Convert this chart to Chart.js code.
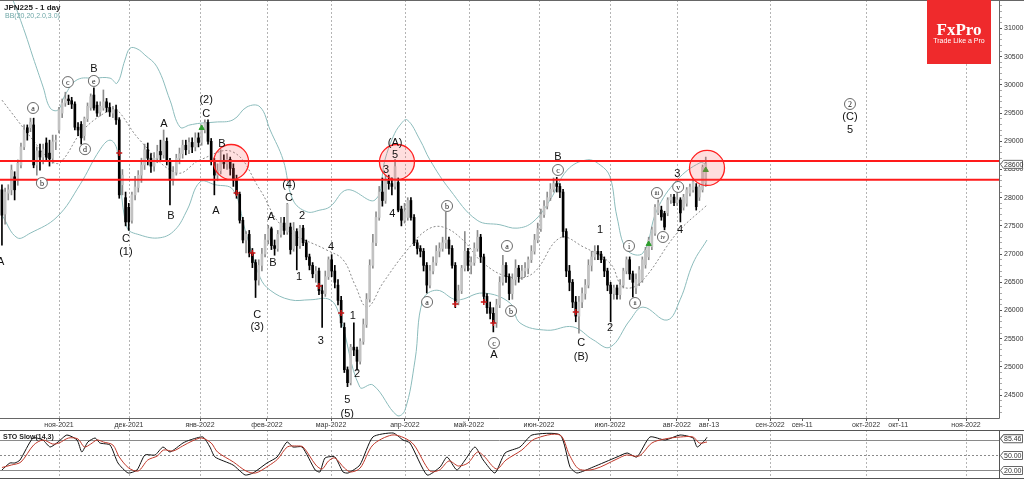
<!DOCTYPE html>
<html><head><meta charset="utf-8">
<script src="https://cdn.jsdelivr.net/npm/chart.js@4.4.0/dist/chart.umd.min.js"></script>
<style>
html,body{margin:0;padding:0;background:#fff;overflow:hidden;}
#wrap{position:relative;width:1024px;height:479px;background:#fff;}
#main{position:absolute;left:0;top:0;width:1024px;height:431px;}
#sto{position:absolute;left:0;top:430px;width:1024px;height:49px;}
</style></head><body>
<div id="wrap">
<canvas id="main" width="1024" height="431"></canvas>
<canvas id="sto" width="1024" height="49"></canvas>
</div>
<script>
// ---------- DATA (daily bars, index 0 = first visible bar) ----------
const opens = [28140,27710,28080,28140,28370,28310,28580,28900,29240,29240,
 29290,28580,28830,28720,28970,28790,28700,28990,29200,29500,
 29680,29750,29720,29660,29250,29300,29100,29400,29600,29820,
 29640,29520,29590,29700,29600,29500,29560,29380,28230,28000,
 27830,27600,28050,28180,28400,28580,28850,28700,28560,28700,
 28820,28760,29000,28650,28310,28450,28700,28780,28930,28850,
 28980,28900,29060,28980,29200,29330,29000,28650,28400,28480,
 28650,28600,28680,28520,28310,28060,27600,27250,27350,27020,
 26850,26540,26800,27000,27250,27450,27150,27100,27350,27550,
 27390,27480,27100,27400,27150,27460,27200,26950,26800,26650,
 26700,26350,26300,26600,26900,26700,26450,26180,25700,24950,
 24720,25350,25300,25100,25450,25750,26200,26800,27200,27650,
 28100,27950,28300,28250,28200,28270,27800,27600,27650,27950,
 27650,27200,27100,27050,26800,26450,26700,26850,27050,27100,
 27200,27250,27100,26800,26150,26350,26750,27050,26800,26850,
 27100,27300,26950,26250,26050,25950,25780,26100,26500,26800,
 26600,26300,26550,26750,26600,26700,26750,26900,27050,27250,
 27450,27700,27850,28000,28150,28250,28200,28100,27400,26700,
 26500,26150,25900,26150,26300,26450,26800,26950,27050,27000,
 26900,26700,26450,26300,26400,26280,26450,26700,26900,26650,
 26400,26490,26540,26810,26950,27130,27370,27730,27780,27720,
 27730,27960,28010,27910,27960,27830,27900,28080,28140,28190,
 28010,28140,28260];
const highs = [28230,28170,28230,28580,28460,28670,28970,29290,29290,29410,
 29410,28900,28950,28950,29060,29020,29110,29110,29600,29750,
 29870,29820,29780,29700,29330,29350,29430,29680,29840,29950,
 29700,29700,29910,29760,29680,29620,29640,29420,28500,28100,
 27900,28100,28380,28480,28700,28950,28970,28780,28800,28930,
 29020,29200,29060,28700,28550,28770,28880,29020,29020,29060,
 29060,29150,29150,29290,29380,29380,29050,28700,28600,28850,
 28760,28780,28720,28600,28400,28100,27650,27400,27420,27100,
 26900,26900,27100,27350,27510,27480,27250,27420,27650,27650,
 27900,27550,27560,27450,27510,27510,27250,27000,26850,26780,
 26750,26450,26700,26950,26990,26800,26550,26250,25780,25000,
 25400,25780,25350,25500,25850,26300,26900,27350,27750,28200,
 28350,28400,28400,28350,28680,28350,27850,27900,28000,28000,
 27700,27250,27150,27100,26850,26800,26950,27150,27200,27300,
 27740,27300,27150,26850,26450,26800,27400,27100,26950,27200,
 27420,27350,27000,26300,26150,26050,26200,26600,26980,26850,
 26650,26650,26900,26800,26800,26850,26950,27150,27350,27550,
 27800,27950,28100,28250,28350,28360,28250,28150,27450,26800,
 26550,26250,26250,26400,26550,26900,27050,27150,27150,27050,
 26950,26750,26500,26450,26450,26550,26750,26950,26950,26700,
 26650,26780,26950,27120,27300,27480,27880,27960,27850,27760,
 28000,28060,28060,28080,28000,28060,28180,28240,28330,28250,
 28230,28580,28720];
const lows = [27160,27530,27960,28050,27960,28220,28530,28850,29020,29170,
 28530,28400,28490,28600,28650,28560,28610,28850,29150,29420,
 29620,29650,29580,29200,29100,28950,29020,29350,29550,29550,
 29440,29450,29550,29520,29440,29420,29300,27990,28050,27500,
 27420,27550,27960,28100,28270,28500,28580,28450,28470,28620,
 28650,28700,28580,27870,28220,28400,28600,28700,28760,28780,
 28800,28830,28900,28930,29150,28950,28580,28050,28300,28420,
 28520,28500,28400,28200,27990,27550,27200,27020,26950,26760,
 26230,26450,26700,26950,27180,27080,26980,27050,27300,27350,
 27350,27000,27050,26720,27100,27150,26900,26720,26580,26500,
 26280,25700,26250,26550,26600,26400,26100,25700,24900,24650,
 24680,25200,24940,25050,25400,25700,26150,26750,27150,27600,
 27850,27900,28150,28050,28150,27750,27500,27550,27600,27600,
 27150,27000,26950,26700,26310,26400,26650,26800,26950,27050,
 27100,27000,26750,26050,26100,26300,26700,26700,26650,26800,
 27050,26850,26150,25950,25850,25620,25700,26050,26450,26500,
 26190,26200,26450,26500,26550,26600,26650,26850,27000,27200,
 27400,27650,27800,27950,28100,28100,28000,27300,26600,26350,
 26050,25800,25600,26050,26200,26400,26700,26900,26900,26850,
 26600,26350,25800,26200,26200,26200,26400,26650,26550,26240,
 26300,26440,26500,26750,26900,27080,27330,27700,27600,27430,
 27680,27900,27860,27860,27570,27780,27850,28030,28100,27780,
 27950,28100,28200];
const closes = [27690,28100,28140,28490,28140,28610,28900,29200,29150,29340,
 28580,28830,28720,28860,28720,28690,28990,29020,29560,29680,
 29750,29720,29660,29250,29200,29060,29400,29620,29790,29590,
 29500,29620,29700,29600,29520,29560,29380,28050,28400,27570,
 27570,28050,28190,28400,28580,28850,28700,28560,28700,28820,
 28760,29010,28650,28310,28450,28700,28780,28930,28850,28980,
 28900,29060,28980,29200,29330,29000,28650,28400,28480,28650,
 28600,28680,28520,28310,28060,27600,27250,27350,27020,26850,
 26540,26800,27000,27250,27450,27150,27100,27350,27550,27420,
 27880,27080,27420,27150,27460,27200,26950,26800,26650,26700,
 26350,26300,26600,26900,26700,26500,26180,25780,24950,24720,
 25350,25300,25100,25450,25750,26200,26800,27200,27650,28100,
 27950,28300,28250,28200,28550,27780,27600,27750,27950,27650,
 27200,27100,27050,26800,26450,26700,26850,27050,27100,27200,
 27250,27100,26800,26150,26350,26750,27050,26800,26850,27100,
 27300,26950,26250,26050,25950,25780,26100,26500,26800,26600,
 26300,26550,26750,26600,26700,26750,26900,27050,27250,27450,
 27700,27850,28000,28150,28250,28200,28100,27400,26700,26500,
 26150,25900,26150,26300,26450,26800,26950,27050,27000,26900,
 26700,26450,26300,26400,26280,26450,26700,26900,26650,26500,
 26550,26720,26900,27070,27250,27430,27830,27910,27660,27480,
 27960,28010,27910,27960,27730,28010,28140,28190,28280,27840,
 28190,28540,28600];

const bbUpIdx = [0,3.5,7.3,9.8,13,15.2,17.7,19.9,23.7,29.4,34.1,36.3,38.8,40.4,42.6,45.1,48.9,53,56.2,59.3,62.5,67.2,72.9,77.3,81.4,84.6,88.7,91.8,96.2,100.3,103.5,108.9,117.7,120.8,123.4,125.6,127.8,131.9,135,141.3,149.9,157.1,162.5,167.5,172.9,178.3,184.6,188.7,191.8,194,197.2,202.2,206.6,212.9,220.2,222.4];
const bbUpVal = [31950,31500,30920,30490,29960,29590,29555,29820,30090,30120,30120,30030,30440,30650,30640,30530,30320,29730,29250,29290,29320,29340,29380,29610,29610,29200,28670,27960,27750,27780,27840,28140,27960,28670,29080,29290,29380,29020,28670,28140,27600,27520,27460,27570,27960,28490,28670,28580,28370,27660,27070,27020,27780,28310,28620,28580];
const bbMidIdx = [0,9.8,15.2,18.3,25.6,34.1,36.3,43.5,55.2,62.5,72.9,81.4,88.7,102.5,107.6,111.4,115.2,120.2,127.8,134.1,139.1,145.4,151.8,160.3,167.5,176.1,183.3,191.8,195.9,201.3,212.9,222.4];
const bbMidVal = [29730,29020,28670,28620,29200,29560,29560,29020,28440,28670,28810,28140,27480,27070,26900,26450,26060,26490,27070,27430,27480,27250,26840,26590,26660,27290,27130,26840,26420,26490,27370,27870];
const bbLowIdx = [0,4.8,8.9,17.4,24.6,30.9,34.1,36.3,39.4,43.5,49.9,54.6,58.4,62.5,67.2,72.9,76.7,81.4,84.6,90.9,97.2,103.5,106.6,112.9,117,124.6,127.1,130.3,132.8,137.2,143.5,151.8,160.3,163.4,172,180.1,186.5,191.8,198.1,202.2,209.8,213.9,218,222.4];
const bbLowVal = [27690,27290,27370,27660,28230,28850,29020,28850,27480,27340,27290,27430,27780,28280,28230,28140,27430,26590,26360,26190,26190,26190,25890,24640,24680,24140,24230,25120,26190,26360,26190,26310,26130,25780,25650,25710,25480,25350,25830,26060,25830,26190,26840,27250];

const stoKIdx = [0,2.5,4.1,5.7,9.8,12.9,15.2,17.7,20.5,23.7,25.2,27.1,29.4,30.9,34.1,36.6,39.8,42.6,45.1,48.3,50.8,53,57.1,59.3,63.4,65.6,67.2,72.9,76.7,79.2,83.6,86.8,89.9,91.8,94.7,98.8,100.3,101.9,105,107.6,109.2,112.9,117,123.4,126.5,128.7,134.1,138.2,140.4,143.5,146.1,149.2,151.8,155.5,158.7,163.4,167.2,176.1,179.2,181.4,186.5,194,197.2,200.3,204.4,209.2,213.9,218,219.3,221.8,222.4];
const stoKVal = [20,34,34,40,84,80,66,76,90,80,56,76,84,74,70,34,14,20,50,50,66,56,74,80,86,66,46,30,10,14,34,46,76,66,66,20,16,44,46,16,14,30,86,94,80,74,10,26,46,20,40,66,40,14,54,66,90,90,26,14,26,46,54,46,86,80,90,84,66,80,85.46];
const stoDIdx = [0,3,6,10,13,16,18,21,24,26,28,30,32,35,37,40,43,46,49,51,54,57,60,63,66,68,73,77,80,84,87,90,93,95,99,101,103,105,108,110,113,117,123,127,130,135,138,141,144,147,150,152,156,159,164,168,176,179,182,187,194,197,201,205,209,214,218,220,222.4];
const stoDVal = [25,30,36,70,80,72,74,84,82,66,72,80,76,70,46,24,18,40,48,60,58,68,78,84,74,56,36,18,14,28,42,66,68,66,30,22,38,44,24,16,24,70,90,84,70,18,20,38,28,34,56,48,22,40,60,82,90,50,22,22,42,50,48,74,82,86,86,74,76];

const xTickPos = [18,40.08,62.48,83.6,103.8,127.1,147.3,169.4,191.8,212.9,223,242.3,252.4,272.6,282.7,304.1];
const xTickLabels = ['ноя-2021','дек-2021','янв-2022','фев-2022','мар-2022','апр-2022','май-2022','июн-2022','июл-2022','авг-2022','авг-13','сен-2022','сен-11','окт-2022','окт-11','ноя-2022'];
const yTickStep = 100, yLabelStep = 500, yTickMin = 24200, yTickMax = 31400;

const resistanceLevels = [28650, 28320];
const highlightCircles = [[72.3,28633],[124.6,28633],[222.4,28527]];
const redMarks = [[37,28793],[74,28083],[79,27020],[100,26434],[107,25956],[143,26115],[152,26151],[155,25778],[181,25973]];
const greenMarks = [[63,29236],[204,27179],[222,28491]];

// wave labels: [bar index, price, text, circled]
const waveLabels = [
 [-0.4,26860,'A',0],[9.8,29590,'a',1],[12.6,28260,'b',1],[20.8,30050,'c',1],[29.0,30280,'B',0],[29.0,30070,'e',1],
 [26.2,28860,'d',1],[39.1,27270,'C',0],[39.1,27040,'(1)',0],[51.1,29310,'A',0],[53.3,27680,'B',0],
 [64.4,29730,'(2)',0],[64.4,29480,'C',0],[69.4,28950,'B',0],[67.5,27760,'A',0],[84.9,27660,'A',0],
 [85.5,26840,'B',0],[90.5,28225,'(4)',0],[90.5,27995,'C',0],[93.7,26594,'1',0],[94.7,27676,'2',0],
 [103.8,27126,'4',0],[80.5,25920,'C',0],[80.5,25708,'(3)',0],[100.6,25459,'3',0],[110.7,25903,'1',0],
 [112.0,24874,'2',0],[108.9,24413,'5',0],[108.9,24165,'(5)',0],[121.2,28491,'3',0],[124.0,28970,'(A)',0],
 [124.0,28757,'5',0],[123.1,27711,'4',0],[140.4,27853,'b',1],[134.1,26151,'a',1],[159.3,27144,'a',1],
 [155.2,25424,'c',1],[155.2,25211,'A',0],[160.6,25991,'b',1],[175.4,28722,'B',0],[175.4,28491,'c',1],
 [182.7,25424,'C',0],[182.7,25176,'(B)',0],[188.7,27427,'1',0],[191.8,25690,'2',0],[197.8,27144,'i',1],
 [199.7,26133,'ii',1],[206.6,28083,'iii',1],[208.5,27303,'iv',1],[213.0,28420,'3',0],[213.3,28190,'v',1],
 [213.9,27427,'4',0],[267.5,29661,'2',1],[267.5,29431,'(C)',0],[267.5,29200,'5',0]
];
const lastPriceLabel = '28600';
const stoLevels = [80, 50, 20];

// ---------- BUILD ----------
const wickData = closes.map((c,i)=>({x:i, y:[lows[i], highs[i]]}));
const bodyData = closes.map((c,i)=>({x:i, y:[Math.min(opens[i],c), Math.max(opens[i],c)]}));
const isBull = i => closes[i] >= opens[i];
const yTickValues = [];
for (let v = yTickMin; v <= yTickMax; v += yTickStep) yTickValues.push(v);

const XMIN = -0.612, XMAX = 314.5;
const FONT = '"Liberation Sans", Arial, sans-serif';
const noPad = s => { s.paddingLeft = 0; s.paddingRight = 0; s.paddingTop = 0; s.paddingBottom = 0; };

function monthTick(i){ return /-20\d\d$/.test(xTickLabels[i]); }

function drawVGrid(chart){
  const {ctx, chartArea:a, scales:{x}} = chart;
  ctx.save();
  ctx.strokeStyle = '#b4b4b4'; ctx.lineWidth = 1; ctx.setLineDash([2,2]);
  xTickPos.forEach((v,i)=>{
    if(!monthTick(i)) return;
    const px = Math.round(x.getPixelForValue(v)) + 0.5;
    ctx.beginPath(); ctx.moveTo(px, a.top); ctx.lineTo(px, a.bottom); ctx.stroke();
  });
  ctx.restore();
}

function priceBox(ctx, x, y, text, w){
  ctx.save();
  ctx.fillStyle = '#fff'; ctx.strokeStyle = '#666'; ctx.lineWidth = 1;
  ctx.beginPath();
  ctx.moveTo(x+0.5, y+0.5);
  ctx.lineTo(x+3.5, y-3.5);
  ctx.lineTo(x+w+0.5, y-3.5);
  ctx.lineTo(x+w+0.5, y+4.5);
  ctx.lineTo(x+3.5, y+4.5);
  ctx.closePath(); ctx.fill(); ctx.stroke();
  ctx.fillStyle = '#333'; ctx.font = '7px ' + FONT; ctx.textBaseline = 'middle'; ctx.textAlign = 'left';
  ctx.fillText(text, x+4, y+1);
  ctx.restore();
}

const mainPlugin = {
  id: 'mainDeco',
  beforeDatasetsDraw(chart){ drawVGrid(chart); },
  afterDatasetsDraw(chart){
    const {ctx, chartArea:a, scales:{x, y}} = chart;
    ctx.save();
    ctx.strokeStyle = '#ff1a1a'; ctx.lineWidth = 2;
    resistanceLevels.forEach(l=>{
      const py = y.getPixelForValue(l);
      ctx.beginPath(); ctx.moveTo(a.left, py); ctx.lineTo(a.right, py); ctx.stroke();
    });
    highlightCircles.forEach(([i,p])=>{
      const cx = x.getPixelForValue(i), cy = y.getPixelForValue(p);
      ctx.beginPath(); ctx.arc(cx, cy, 17.5, 0, Math.PI*2);
      ctx.fillStyle = 'rgba(255,90,90,0.2)'; ctx.fill();
      ctx.strokeStyle = '#ff2020'; ctx.lineWidth = 1.3; ctx.stroke();
    });
    ctx.textAlign = 'center'; ctx.textBaseline = 'middle';
    waveLabels.forEach(([i,p,t,c])=>{
      const cx = x.getPixelForValue(i), cy = y.getPixelForValue(p);
      if(c){
        ctx.beginPath(); ctx.arc(cx, cy, 5.5, 0, Math.PI*2);
        ctx.fillStyle = '#fff'; ctx.fill();
        ctx.strokeStyle = '#444'; ctx.lineWidth = 0.8; ctx.stroke();
        ctx.fillStyle = '#111';
        ctx.font = (t.length>1 ? '6px ' : '8px ') + '"Liberation Serif", serif';
        ctx.fillText(t, cx, cy+0.5);
      } else {
        ctx.fillStyle = '#111'; ctx.font = '11px ' + FONT;
        ctx.fillText(t, cx, cy);
      }
    });
    ctx.strokeStyle = '#666'; ctx.lineWidth = 1;
    ctx.beginPath(); ctx.moveTo(0, 0.5); ctx.lineTo(1024, 0.5); ctx.stroke();
    ctx.beginPath(); ctx.moveTo(a.right+0.5, 0); ctx.lineTo(a.right+0.5, a.bottom+0.5); ctx.lineTo(0, a.bottom+0.5); ctx.stroke();
    ctx.textAlign = 'left'; ctx.textBaseline = 'alphabetic';
    ctx.fillStyle = '#222'; ctx.font = 'bold 8px ' + FONT;
    ctx.fillText('JPN225 - 1 day', 4, 10);
    ctx.fillStyle = '#6fa8a8'; ctx.font = '7px ' + FONT;
    ctx.fillText('BB(20,20,2.0,3.0)', 5, 18);
    ctx.fillStyle = '#ef2a2c'; ctx.fillRect(927, 0, 64, 64);
    ctx.fillStyle = '#fff'; ctx.textAlign = 'center';
    ctx.font = 'bold 17px "Liberation Serif", serif';
    ctx.fillText('FxPro', 959, 35);
    ctx.font = '7px ' + FONT;
    ctx.fillText('Trade Like a Pro', 959, 43);
    priceBox(ctx, a.right+1, y.getPixelForValue(28600), lastPriceLabel, 22);
    ctx.restore();
  }
};

new Chart(document.getElementById('main'), {
  type: 'bar',
  data: { datasets: [
    {type:'line', data: bbUpIdx.map((v,k)=>({x:v, y:bbUpVal[k]})), borderColor:'#8cbcbc', borderWidth:1, pointRadius:0, pointHoverRadius:0, tension:0.4, order:6},
    {type:'line', data: bbMidIdx.map((v,k)=>({x:v, y:bbMidVal[k]})), borderColor:'#8a8a8a', borderWidth:1, borderDash:[2,2], pointRadius:0, pointHoverRadius:0, tension:0.4, order:6},
    {type:'line', data: bbLowIdx.map((v,k)=>({x:v, y:bbLowVal[k]})), borderColor:'#8cbcbc', borderWidth:1, pointRadius:0, pointHoverRadius:0, tension:0.4, order:6},
    {type:'bar', data: wickData, barThickness:1, grouped:false, order:3,
      backgroundColor: c => isBull(c.dataIndex) ? '#8c8c8c' : '#000'},
    {type:'bar', data: bodyData, barThickness:2, minBarLength:1, grouped:false, order:2,
      backgroundColor: c => isBull(c.dataIndex) ? '#c2c2c2' : '#000'},
    {type:'scatter', data: redMarks.map(([i,p])=>({x:i,y:p})), pointStyle:'cross', pointRadius:3, pointHoverRadius:3, borderColor:'#c81414', borderWidth:1.5, order:1},
    {type:'scatter', data: greenMarks.map(([i,p])=>({x:i,y:p})), pointStyle:'triangle', pointRadius:3, pointHoverRadius:3, backgroundColor:'#2e9e2e', borderColor:'#2e9e2e', order:1}
  ]},
  options: {
    responsive:false, animation:false, devicePixelRatio:1,
    plugins:{legend:{display:false}, tooltip:{enabled:false}},
    layout:{padding:0, autoPadding:false},
    scales:{
      x:{type:'linear', offset:false, min:XMIN, max:XMAX,
        afterBuildTicks: s=>{ s.ticks = xTickPos.map(v=>({value:v})); },
        ticks:{autoSkip:false, maxRotation:0, padding:0, color:'#333', font:{size:7, family:FONT},
          callback:(v)=> xTickLabels[xTickPos.indexOf(v)]},
        grid:{offset:false, drawOnChartArea:false, drawTicks:true, tickLength:3, color:'#555'},
        border:{display:false},
        afterFit: s=>{ s.height = 13; noPad(s); }},
      y:{position:'right', min:24094, max:31505,
        afterBuildTicks: s=>{ s.ticks = yTickValues.map(v=>({value:v})); },
        ticks:{padding:2, color:'#333', font:{size:7, family:FONT}, autoSkip:false,
          callback:(v)=> (v % yLabelStep === 0 ? String(v) : '')},
        grid:{drawOnChartArea:false, drawTicks:true, tickLength:3,
          tickColor: c => (c.tick && c.tick.value % yLabelStep === 0 ? '#555' : '#aaa')},
        border:{display:false},
        afterFit: s=>{ s.width = 25; noPad(s); }}
    }
  },
  plugins:[mainPlugin]
});

const stoPlugin = {
  id: 'stoDeco',
  beforeDatasetsDraw(chart){
    drawVGrid(chart);
    const {ctx, chartArea:a, scales:{y}} = chart;
    ctx.save();
    ctx.strokeStyle = '#8a8a8a'; ctx.lineWidth = 1;
    stoLevels.forEach(l=>{
      const py = Math.round(y.getPixelForValue(l)) + 0.5;
      ctx.setLineDash(l===50 ? [2,2] : []);
      ctx.beginPath(); ctx.moveTo(a.left, py); ctx.lineTo(a.right, py); ctx.stroke();
    });
    ctx.restore();
  },
  afterDatasetsDraw(chart){
    const {ctx, chartArea:a, scales:{y}} = chart;
    ctx.save();
    ctx.strokeStyle = '#555'; ctx.lineWidth = 1;
    ctx.beginPath(); ctx.moveTo(0, 0.5); ctx.lineTo(1024, 0.5); ctx.stroke();
    ctx.beginPath(); ctx.moveTo(0, 48.5); ctx.lineTo(1024, 48.5); ctx.stroke();
    ctx.beginPath(); ctx.moveTo(a.right+0.5, 0); ctx.lineTo(a.right+0.5, 49); ctx.stroke();
    ctx.fillStyle = '#222'; ctx.font = 'bold 7px ' + FONT; ctx.textAlign='left'; ctx.textBaseline='alphabetic';
    ctx.fillText('STO Slow(14,3)', 3, 9);
    priceBox(ctx, a.right+1, y.getPixelForValue(80)-2, '80.00', 22);
    priceBox(ctx, a.right+1, y.getPixelForValue(50), '50.00', 22);
    priceBox(ctx, a.right+1, y.getPixelForValue(20), '20.00', 22);
    priceBox(ctx, a.right+1, y.getPixelForValue(85.46)+1, '85.46', 22);
    ctx.restore();
  }
};

new Chart(document.getElementById('sto'), {
  type: 'line',
  data: { datasets: [
    {data: stoDIdx.map((v,k)=>({x:v, y:stoDVal[k]})), borderColor:'#c0392b', borderWidth:1, pointRadius:0, pointHoverRadius:0, tension:0.3},
    {data: stoKIdx.map((v,k)=>({x:v, y:stoKVal[k]})), borderColor:'#111', borderWidth:1, pointRadius:0, pointHoverRadius:0, tension:0.2}
  ]},
  options: {
    responsive:false, animation:false, devicePixelRatio:1,
    plugins:{legend:{display:false}, tooltip:{enabled:false}},
    layout:{padding:{left:0, right:25, top:0, bottom:1}, autoPadding:false},
    scales:{
      x:{type:'linear', display:false, min:XMIN, max:XMAX},
      y:{display:false, min:4, max:100}
    }
  },
  plugins:[stoPlugin]
});
</script>
</body></html>
